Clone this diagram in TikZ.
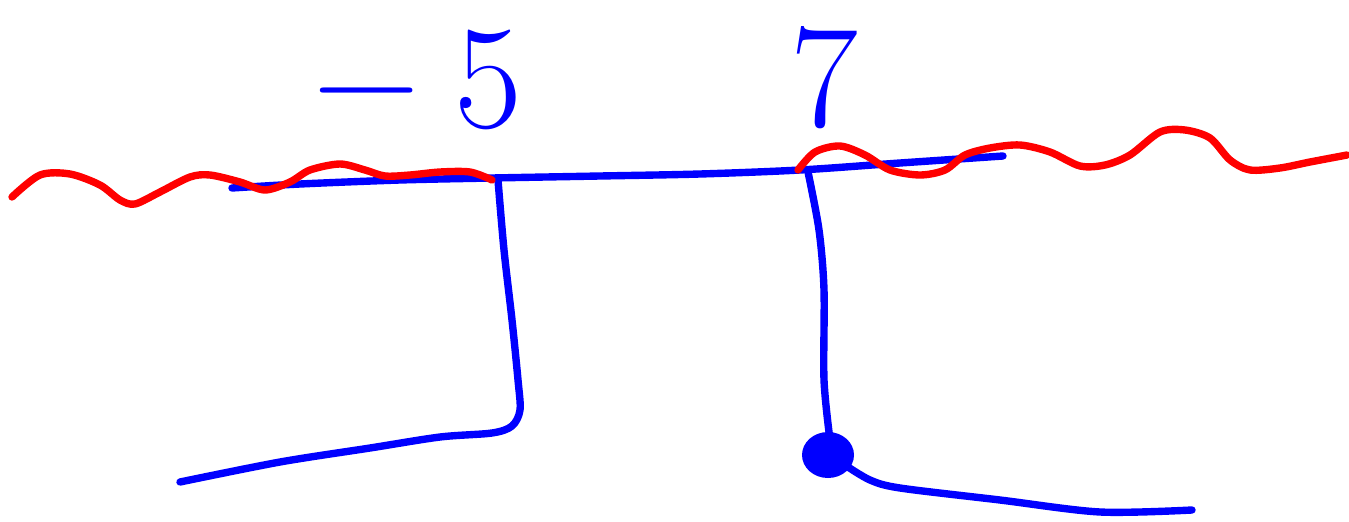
\documentclass[tikz,border=0pt]{standalone}
\usepackage{xcolor}
\definecolor{penblue}{RGB}{0,0,255}
\definecolor{penred}{RGB}{255,0,0}
\tikzset{
  pen/.style={line width=2.1pt, line cap=round, line join=round},
  numlabel/.style={text=penblue, font=\fontsize{42}{46}\selectfont, inner sep=0pt}
}
\begin{document}
\begin{tikzpicture}[x=0.01cm, y=-0.01cm]
\useasboundingbox (0,0) rectangle (1349,521);
% the blue rail and its two legs
\draw[pen, penblue] plot[smooth] coordinates {(232,188) (300,184) (400,180) (492,178) (600,176) (700,174) (800,170) (900,163) (1003,156)};
\draw[pen, penblue] plot[smooth] coordinates {(498,180) (504,250) (512,320) (518,380) (520,410) (512,426) (492,433) (440,437) (370,448) (280,462) (180,482)};
\draw[pen, penblue] plot[smooth] coordinates {(808,172) (819,230) (824,290) (824,380) (830,440)};
\fill[penblue] (828,455) ellipse (26 and 23);
\draw[pen, penblue] plot[smooth] coordinates {(845,465) (870,480) (900,488) (1000,500) (1100,512) (1192,510)};
% the red wave
\draw[pen, penred] plot[smooth] coordinates {(12,197) (40,175) (70,174) (100,185) (120,200) (135,204) (160,192) (190,177) (210,175) (240,182) (265,190) (290,182) (310,170) (340,164) (365,170) (385,176) (410,175) (440,172) (470,172) (492,180)};
\draw[pen, penred] plot[smooth] coordinates {(798,170) (815,152) (840,146) (865,155) (890,170) (920,175) (945,170) (965,155) (990,148) (1020,145) (1050,152) (1080,166) (1105,165) (1130,155) (1160,132) (1185,130) (1210,138) (1230,160) (1250,170) (1280,168) (1310,162) (1347,155)};
% labels
\node[numlabel] (minusfive) at (418,80) {−\hspace{0.35cm}5};
\node[numlabel] (seven) at (824,78) {7};
\end{tikzpicture}
\end{document}
